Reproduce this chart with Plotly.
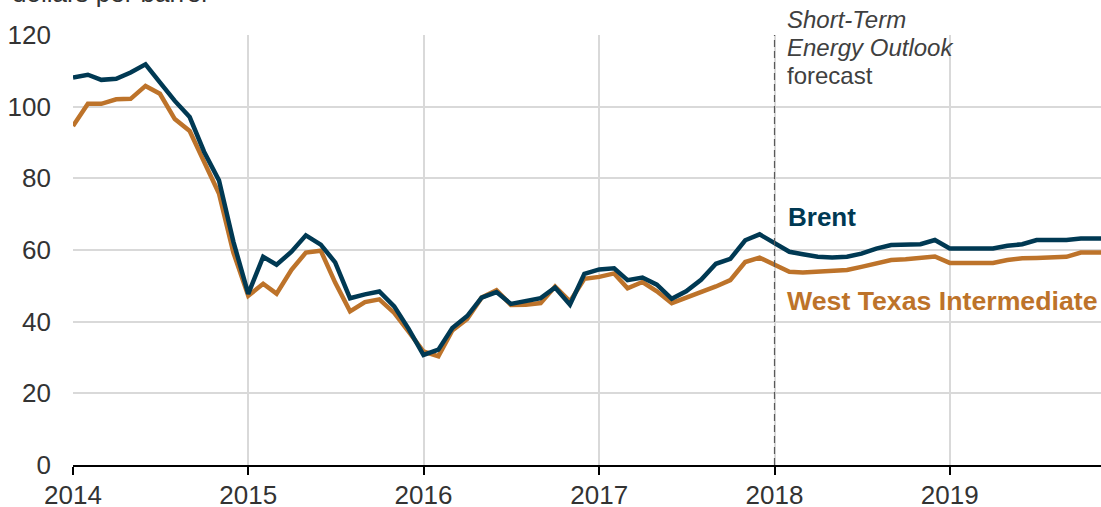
import plotly.graph_objects as go
import pandas as pd

months = pd.date_range("2014-01-01", "2019-12-01", freq="MS")

brent = [
    108.12, 108.90, 107.48, 107.76, 109.54, 111.80, 106.77, 101.61, 97.09, 87.43, 79.44, 62.34,
    47.76, 58.10, 55.89, 59.52, 64.08, 61.48, 56.56, 46.52, 47.62, 48.43, 44.27, 38.01,
    30.70, 32.18, 38.21, 41.58, 46.74, 48.25, 44.95, 45.84, 46.57, 49.52, 44.73, 53.31,
    54.58, 54.87, 51.59, 52.31, 50.33, 46.37, 48.48, 51.70, 56.15, 57.51, 62.71, 64.37,
    61.8, 59.5, 58.8, 58.1, 57.9, 58.1, 59.0, 60.4, 61.4, 61.4, 61.6, 62.8,
    60.4, 60.4, 60.4, 60.4, 61.2, 61.6, 62.8, 62.8, 62.8, 63.2, 63.2, 63.2,
]
wti = [
    94.62, 100.82, 100.80, 102.07, 102.18, 105.79, 103.59, 96.54, 93.21, 84.40, 75.79, 59.29,
    47.22, 50.58, 47.82, 54.45, 59.27, 59.82, 50.90, 42.87, 45.48, 46.22, 42.44, 37.19,
    31.68, 30.32, 37.55, 40.75, 46.71, 48.76, 44.65, 44.72, 45.18, 49.78, 45.66, 51.97,
    52.50, 53.47, 49.33, 51.06, 48.48, 45.18, 46.63, 48.04, 49.82, 51.58, 56.64, 57.88,
    55.8, 53.9, 53.7, 53.9, 54.1, 54.4, 55.3, 56.4, 57.2, 57.4, 57.7, 58.2,
    56.4, 56.4, 56.4, 56.4, 57.2, 57.7, 57.8, 58.1, 58.1, 59.3, 59.3, 59.3,
]
forecast_start = "2018-01-01"
y_ticks = [0, 20, 40, 60, 80, 100, 120]

BRENT_C = "#003953"
WTI_C = "#bd732a"
FONT = "Arial, Liberation Sans, sans-serif"
TXT = "#333333"

fig = go.Figure()
fig.add_trace(go.Scatter(x=months, y=wti, mode="lines", line=dict(color=WTI_C, width=4.5),
                         name="West Texas Intermediate", hoverinfo="x+y"))
fig.add_trace(go.Scatter(x=months, y=brent, mode="lines", line=dict(color=BRENT_C, width=4.5),
                         name="Brent", hoverinfo="x+y"))

fig.add_shape(type="line", xref="x", yref="paper", x0=forecast_start, x1=forecast_start,
              y0=0, y1=1, line=dict(color="#595959", width=1.2, dash="7px,4px"))

ann = [
    dict(text="<b>Brent</b>", y=0.576, color=BRENT_C, size=26, shift=11),
    dict(text="<b>West Texas Intermediate</b>", y=0.381, color=WTI_C, size=26.7, shift=10),
    dict(text="<i>Short-Term</i>", y=1.035, color="#404040", size=24, shift=10),
    dict(text="<i>Energy Outlook</i>", y=0.971, color="#404040", size=24, shift=10),
    dict(text="forecast", y=0.906, color="#404040", size=24, shift=10),
]
for a in ann:
    fig.add_annotation(text=a["text"], x=forecast_start, y=a["y"], xref="x", yref="paper",
                       xanchor="left", yanchor="middle", xshift=a["shift"], showarrow=False,
                       font=dict(family=FONT, size=a["size"], color=a["color"]))

fig.add_annotation(text="dollars per barrel", xref="paper", yref="paper",
                   x=-0.0615, y=1.097, xanchor="left", yanchor="middle", showarrow=False,
                   font=dict(family=FONT, size=26, color=TXT))

fig.update_layout(
    width=1101, height=507,
    margin=dict(l=73, r=0, t=35, b=42),
    paper_bgcolor="white", plot_bgcolor="white",
    showlegend=False,
    font=dict(family=FONT, size=26, color=TXT),
)
fig.update_xaxes(
    type="date", range=["2014-01-01", "2019-11-12"], automargin=False,
    tick0="2014-01-01", dtick="M12", tickformat="%Y",
    showgrid=True, gridcolor="#d9d9d9", gridwidth=1.5,
    showline=True, linecolor="#000000", linewidth=1.5,
    ticks="outside", ticklen=8, tickwidth=1.5, tickcolor="#000000",
    ticklabelstandoff=-2,
    tickfont=dict(family=FONT, size=26, color=TXT),
)
fig.update_yaxes(
    range=[0, 120], tickvals=y_ticks, automargin=False,
    showgrid=True, gridcolor="#d9d9d9", gridwidth=1.5,
    zeroline=False, showline=False, ticks="",
    ticklabelstandoff=21,
    tickfont=dict(family=FONT, size=26, color=TXT),
)

fig.write_html("out.html", config={"displayModeBar": False},
               post_script="document.body.style.margin='0px';document.body.style.overflow='hidden';")
